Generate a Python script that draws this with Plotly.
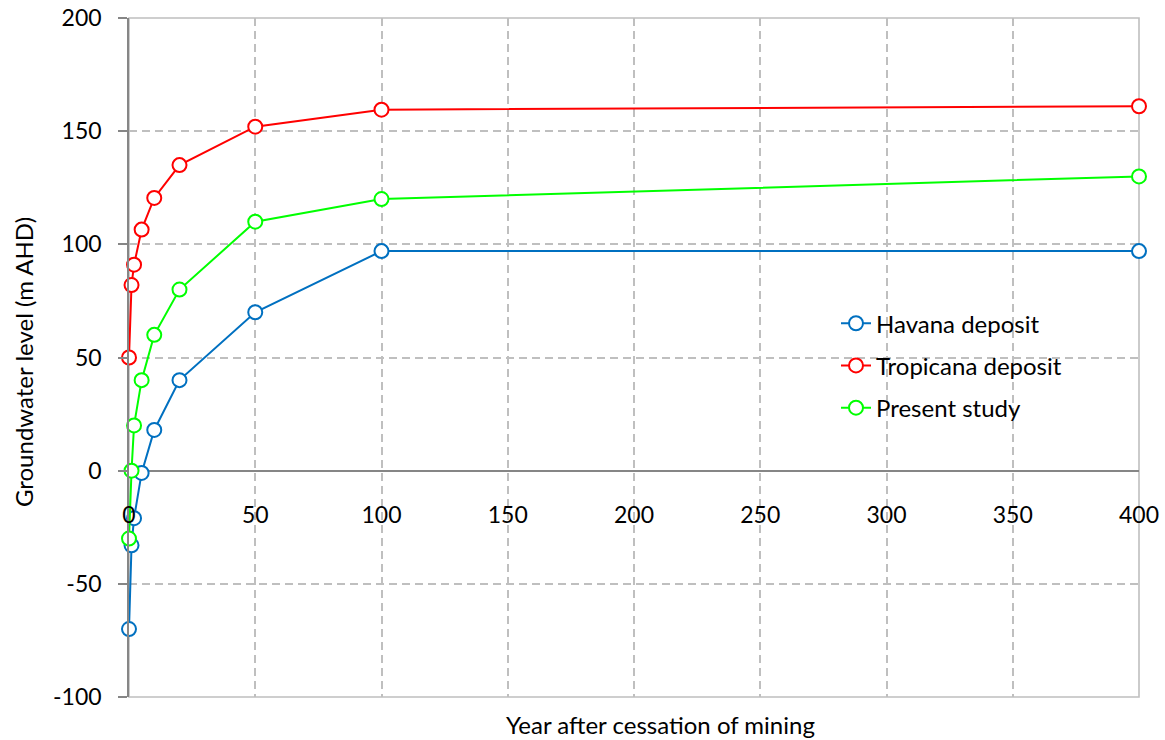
import plotly.graph_objects as go

years = [0, 1, 2, 5, 10, 20, 50, 100, 400]
havana = [-70, -33, -21, -1, 18, 40, 70, 97, 97]
tropicana = [50, 82, 91, 106.5, 120.5, 135, 152, 159.5, 161]
present = [-30, 0, 20, 40, 60, 80, 110, 120, 130]

x_ticks = [0, 50, 100, 150, 200, 250, 300, 350, 400]
y_ticks = [-100, -50, 0, 50, 100, 150, 200]
y_tick_text = ["-100", "-50", "0", "50", "100", "150", "200"]

series = [
    ("Havana deposit", havana, "#0070C0"),
    ("Tropicana deposit", tropicana, "#FF0000"),
    ("Present study", present, "#00FF00"),
]

FONT = "Lato"
GRID = "#bfbfbf"
fig = go.Figure()
for name, vals, col in series:
    fig.add_trace(go.Scatter(
        x=years, y=vals, name=name, mode="lines+markers", legendgroup=name,
        line=dict(color=col, width=2), cliponaxis=False,
        marker=dict(symbol="circle", size=14, color="white",
                    line=dict(color=col, width=2)),
    ))

fig.update_layout(
    width=1165, height=740,
    margin=dict(l=128.5, r=25.7, t=18.3, b=43.3, autoexpand=False),
    paper_bgcolor="white", plot_bgcolor="white",
    font=dict(family=FONT, size=23, color="black"),
    showlegend=True,
    legend=dict(x=0.700, y=0.583, xanchor="left", yanchor="top",
                bgcolor="rgba(0,0,0,0)", font=dict(size=24, family=FONT),
                tracegroupgap=8),
    xaxis=dict(range=[0, 400], tickvals=x_ticks, anchor="free", position=1/3,
               showgrid=True, gridcolor=GRID, griddash="8px,5px", gridwidth=1.5,
               zeroline=False, showline=False, ticks="", automargin=False,
               ticklabelstandoff=28, tickfont=dict(size=23, family=FONT)),
    yaxis=dict(range=[-100, 200], tickvals=y_ticks, ticktext=y_tick_text,
               showgrid=True, gridcolor=GRID, griddash="8px,5px", gridwidth=1.5,
               zeroline=True, zerolinecolor="#868686", zerolinewidth=1.6,
               showline=True, linecolor="#868686", linewidth=1.6, automargin=False,
               ticks="outside", ticklen=9, tickcolor="#868686", tickwidth=1.6,
               ticklabelstandoff=12, tickfont=dict(size=23, family=FONT)),
    shapes=[dict(type="rect", xref="paper", yref="paper", x0=0, x1=1, y0=0, y1=1,
                 line=dict(color=GRID, width=1.6), layer="below")],
    annotations=[
        dict(text="Year after cessation of mining", xref="paper", yref="paper",
             x=0.526, y=-0.0402, xanchor="center", yanchor="middle", showarrow=False,
             font=dict(size=24, family=FONT)),
        dict(text="Groundwater level (m AHD)", xref="paper", yref="paper",
             x=-0.1044, y=0.4926, xanchor="center", yanchor="middle", textangle=-90,
             showarrow=False, font=dict(size=24, family=FONT)),
    ],
)

fig.write_html("out.html", config={"displayModeBar": False},
               post_script="document.body.style.margin='0';")
